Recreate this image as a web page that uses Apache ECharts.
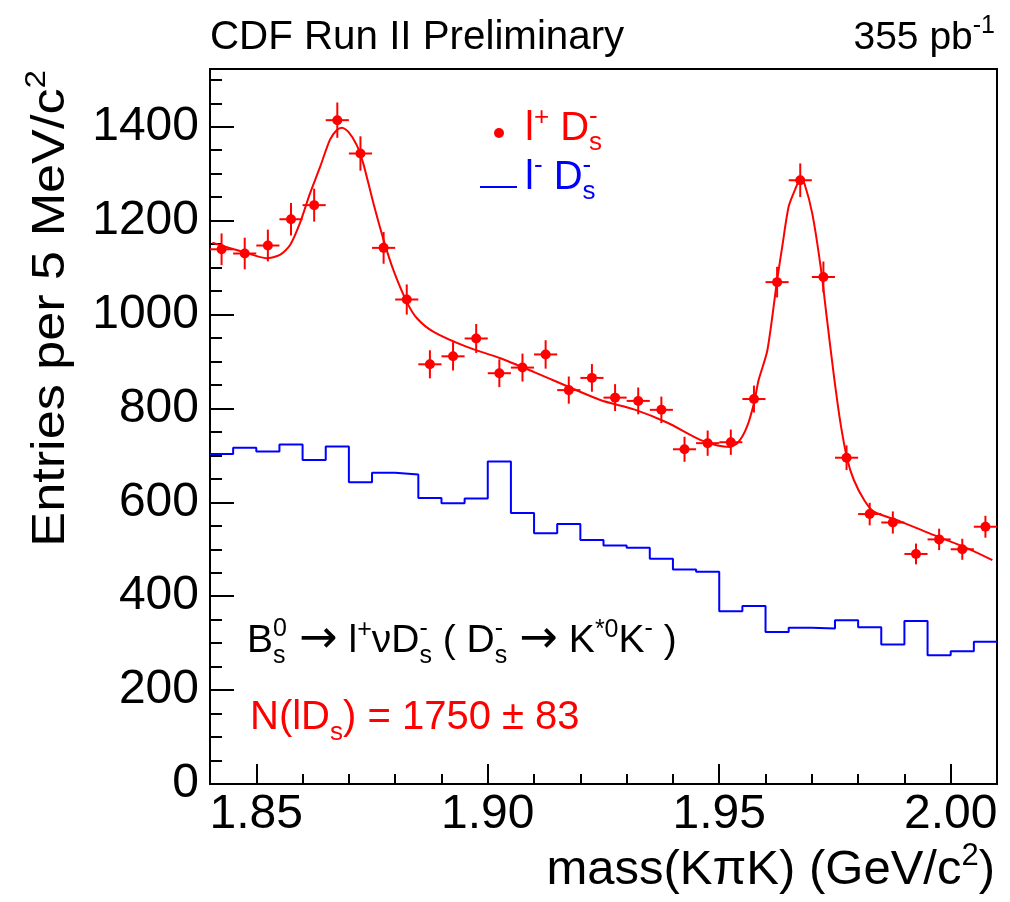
<!DOCTYPE html>
<html>
<head>
<meta charset="utf-8">
<script src="https://cdn.jsdelivr.net/npm/echarts@6/dist/echarts.min.js"></script>
<style>
  html, body { margin: 0; padding: 0; background: #fff; }
  #main { width: 1010px; height: 902px; }
</style>
</head>
<body>
<div id="main"></div>
<script>
// histogram binning: 5 MeV bins from 1.840 to 2.010 GeV
var binLow = 1.84;
var binWidth = 0.005;

// l+ Ds- (right sign) entries per bin
var signalCounts = [1139, 1130, 1147, 1203, 1233, 1414, 1343, 1142, 1032, 894, 911, 949, 875, 887, 915, 839, 865,
                    823, 816, 797, 713, 726, 728, 820, 1069, 1286, 1080, 695, 575, 557, 490, 521, 500, 548];
// l- Ds- (wrong sign) entries per bin
var wrongSignCounts = [703, 716, 708, 723, 690, 719, 643, 663, 659, 609, 598, 608, 687, 577, 534, 554, 520,
                       508, 503, 480, 457, 452, 368, 379, 324, 333, 331, 349, 334, 297, 347, 274, 283, 303];

// fit curve
var fitMass = [1.8405, 1.8476, 1.8522, 1.8551, 1.8573, 1.8594, 1.8616, 1.8638, 1.8659, 1.8674, 1.8685, 1.8699,
               1.8717, 1.8731, 1.8753, 1.8775, 1.8796, 1.8825, 1.8847, 1.8883, 1.8955, 1.9027, 1.9099, 1.9243,
               1.9316, 1.9387, 1.9459, 1.9496, 1.9524, 1.9542, 1.9560, 1.9575, 1.9585, 1.9604, 1.9625, 1.9636,
               1.9650, 1.9665, 1.9676, 1.9684, 1.9701, 1.9719, 1.9733, 1.9748, 1.9762, 1.9777, 1.9791, 1.9813,
               1.9834, 1.9892, 1.9964, 2.0036, 2.0090];
var fitValue = [1153, 1132, 1120, 1127, 1148, 1194, 1258, 1315, 1372, 1393, 1398, 1389, 1361, 1322, 1237, 1159,
                1095, 1027, 992, 963, 931, 907, 878, 818, 798, 770, 733, 721, 718, 729, 761, 811, 860, 924,
                1073, 1144, 1230, 1269, 1290, 1279, 1215, 1102, 988, 867, 768, 690, 647, 605, 580, 559, 530,
                502, 477];

// axis ticks
var xTicks = [1.85, 1.90, 1.95, 2.00];
var xMinorTicks = [1.84, 1.86, 1.87, 1.88, 1.89, 1.91, 1.92, 1.93, 1.94, 1.96, 1.97, 1.98, 1.99, 2.01];
var yTicks = [0, 200, 400, 600, 800, 1000, 1200, 1400];
var yMinorTicks = [50, 100, 150, 250, 300, 350, 450, 500, 550, 650, 700, 750, 850, 900, 950,
                   1050, 1100, 1150, 1250, 1300, 1350, 1450, 1500];

var SANS = '"Liberation Sans", Arial, Helvetica, sans-serif';
var SYM = '"DejaVu Sans", sans-serif';
var RED = '#ff0000', BLUE = '#0000ff';

var measureCtx = document.createElement('canvas').getContext('2d');
function textWidth(t, s, fam) {
  measureCtx.font = s + 'px ' + (fam || SANS);
  return measureCtx.measureText(t).width;
}

// lay out a ROOT-like latex string from pieces: [text, size, dy, stackOnPrevious, family]
function formula(x0, base, parts, color, opt) {
  opt = opt || {};
  var x = 0, prevStart = 0, kids = [];
  parts.forEach(function (p) {
    var t = p[0], s = p[1], dy = p[2] || 0, back = p[3], fam = p[4] || SANS;
    var sx = back ? prevStart : x;
    var w = textWidth(t, s, fam);
    kids.push({
      type: 'text',
      style: {
        text: t, x: sx, y: dy - 0.35 * s,
        fill: color, font: s + 'px ' + fam,
        textAlign: 'left', textVerticalAlign: 'middle', align: 'left', verticalAlign: 'middle'
      }
    });
    if (back) {
      x = Math.max(x, sx + w);
    } else {
      prevStart = x;
      x = x + w;
    }
  });
  var sc = opt.scale || 1;
  if (opt.align === 'right') {
    kids.forEach(function (k) { k.style.x -= x; });
  }
  return { type: 'group', x: x0, y: base, rotation: opt.rot || 0, scaleX: sc, children: kids, z: 100 };
}
function formulaWidth(parts) {
  var w = 0;
  parts.forEach(function (p) { if (!p[3]) w += textWidth(p[0], p[1], p[4]); });
  return w;
}

var chart = echarts.init(document.getElementById('main'), null, { renderer: 'canvas' });

var pointData = signalCounts.map(function (v, i) {
  return [binLow + (i + 0.5) * binWidth, v, Math.sqrt(v)];
});

var histLine = [];
wrongSignCounts.forEach(function (v, i) {
  histLine.push([binLow + i * binWidth, v]);
  histLine.push([binLow + (i + 1) * binWidth, v]);
});

var fitData = fitMass.map(function (m, i) { return [m, fitValue[i]]; });

var tickStyle = { color: '#000', width: 2 };

var option = {
  animation: false,
  backgroundColor: '#fff',
  grid: {
    left: 210, right: 13, top: 69, bottom: 118,
    show: true, borderColor: '#000', borderWidth: 2, backgroundColor: 'transparent'
  },
  xAxis: [
    {
      type: 'value', min: 1.84, max: 2.01, position: 'bottom',
      axisLine: { show: false }, splitLine: { show: false },
      axisTick: { show: true, inside: true, length: 20, customValues: xTicks, lineStyle: tickStyle },
      axisLabel: {
        customValues: xTicks, margin: 7, fontSize: 48, fontFamily: SANS, color: '#000',
        formatter: function (v) { return v.toFixed(2); }
      }
    },
    {
      type: 'value', min: 1.84, max: 2.01, position: 'bottom',
      axisLine: { show: false }, splitLine: { show: false },
      axisTick: { show: true, inside: true, length: 10, customValues: xMinorTicks, lineStyle: tickStyle },
      axisLabel: { show: false }
    }
  ],
  yAxis: [
    {
      type: 'value', min: 0, max: 1523, position: 'left',
      axisLine: { show: false }, splitLine: { show: false },
      axisTick: { show: true, inside: true, length: 24, customValues: yTicks, lineStyle: tickStyle },
      axisLabel: {
        customValues: yTicks, margin: 11, fontSize: 48, fontFamily: SANS, color: '#000',
        formatter: function (v) { return String(v); }
      }
    },
    {
      type: 'value', min: 0, max: 1523, position: 'left',
      axisLine: { show: false }, splitLine: { show: false },
      axisTick: { show: true, inside: true, length: 12, customValues: yMinorTicks, lineStyle: tickStyle },
      axisLabel: { show: false }
    }
  ],
  series: [
    {
      name: 'wrong sign', type: 'line', data: histLine,
      symbol: 'none', lineStyle: { color: BLUE, width: 2 }, z: 2
    },
    {
      name: 'fit', type: 'line', data: fitData, smooth: 0.25,
      symbol: 'none', lineStyle: { color: RED, width: 2 }, z: 3
    },
    {
      name: 'data', type: 'custom', data: pointData, z: 4,
      renderItem: function (params, api) {
        var x = api.value(0), y = api.value(1), e = api.value(2);
        var c = api.coord([x, y]);
        var top = api.coord([x, y + e]);
        var bot = api.coord([x, y - e]);
        var l = api.coord([x - binWidth / 2, y]);
        var r = api.coord([x + binWidth / 2, y]);
        var st = { stroke: RED, lineWidth: 2 };
        return {
          type: 'group',
          children: [
            { type: 'line', shape: { x1: c[0], y1: top[1], x2: c[0], y2: bot[1] }, style: st },
            { type: 'line', shape: { x1: l[0], y1: c[1], x2: r[0], y2: c[1] }, style: st },
            { type: 'circle', shape: { cx: c[0], cy: c[1], r: 5 }, style: { fill: RED } }
          ]
        };
      }
    }
  ],
  graphic: []
};

var g = [];
g.push(formula(210, 52, [['CDF Run II Preliminary', 40.3]], '#000'));
g.push(formula(995, 52, [['355 pb', 39], ['-1', 25, -17]], '#000', { align: 'right' }));
// y axis title, rotated, ending at the top of the frame
var yTitle = [['Entries per 5 MeV/c', 47], ['2', 30, -20]];
var yStretch = 1.11;
g.push(formula(67, 70 + formulaWidth(yTitle) * yStretch, yTitle, '#000', { rot: Math.PI / 2, scale: yStretch }));
// x axis title
g.push(formula(995, 888, [['mass(K\u03c0K) (GeV/c', 49], ['2', 31, -21], [')', 49]], '#000', { align: 'right' }));
// legend
g.push({ type: 'circle', shape: { cx: 499, cy: 133, r: 5 }, style: { fill: RED }, z: 100 });
g.push(formula(525, 143, [['l', 40], ['+', 26, -16], [' D', 40], ['s', 26, 9], ['-', 26, -17, true]], RED));
g.push({ type: 'line', shape: { x1: 480, y1: 187, x2: 517, y2: 187 }, style: { stroke: BLUE, lineWidth: 2 }, z: 100 });
g.push(formula(525, 192, [['l', 40], ['-', 26, -17], [' D', 40], ['s', 26, 9], ['-', 26, -17, true]], BLUE));
// decay annotation
g.push(formula(247, 655, [
  ['B', 39], ['s', 25, 10], ['0', 25, -17, true], [' ', 44], ['\u2192', 46, 1, false, SYM], [' l', 39],
  ['+', 25, -16], ['\u03bdD', 39], ['s', 25, 10], ['-', 25, -17, true], [' ( D', 39], ['s', 25, 10],
  ['-', 25, -17, true], [' ', 44], ['\u2192', 46, 1, false, SYM], [' K', 39],
  ['*0', 25, -16], ['K', 39], ['-', 25, -17], [' )', 39]
], '#000'));
g.push(formula(250, 732, [['N(lD', 40], ['s', 26, 10], [') = 1750 \u00b1 83', 40]], RED));
option.graphic = g;

chart.setOption(option);
</script>
</body>
</html>
